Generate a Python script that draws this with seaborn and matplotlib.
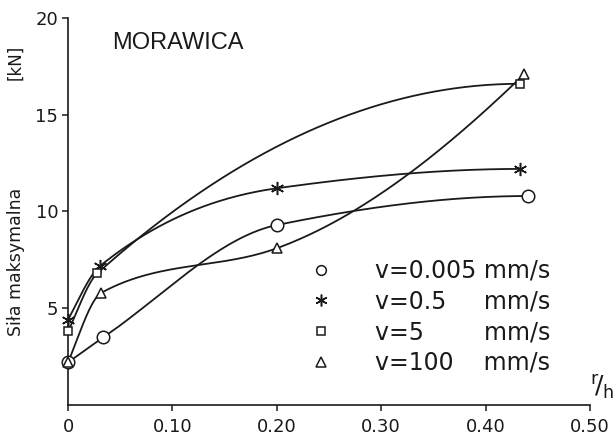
import numpy as np
import pandas as pd
import matplotlib
matplotlib.use("Agg")
import matplotlib.pyplot as plt
from matplotlib import font_manager
import seaborn as sns

# ---- data ----
series_labels = ["v=0.005", "v=0.5", "v=5", "v=100"]
label_pad = ["", "\u2007\u2007", "\u2007\u2008\u2007\u2007", "\u2007\u2008"]
unit = "mm/s"

x_v0005 = [0.0, 0.034, 0.200, 0.441]
y_v0005 = [2.2, 3.5, 9.3, 10.8]

x_v05 = [0.0, 0.031, 0.200, 0.433]
y_v05 = [4.4, 7.2, 11.2, 12.2]

x_v5 = [0.0, 0.028, 0.433]
y_v5 = [3.8, 6.8, 16.6]

x_v100 = [0.0, 0.032, 0.200, 0.437]
y_v100 = [2.2, 5.8, 8.1, 17.1]

x_ticks = [0.0, 0.10, 0.20, 0.30, 0.40, 0.50]
x_ticklabels = ["0", "0.10", "0.20", "0.30", "0.40", "0.50"]
y_ticks = [5, 10, 15, 20]
y_ticklabels = ["5", "10", "15", "20"]

title_text = "MORAWICA"
ylabel_text = "Siła maksymalna"
yunit_text = "[kN]"


def pchip(x, y, xs):
    x = np.asarray(x, float)
    y = np.asarray(y, float)
    h = np.diff(x)
    d = np.diff(y) / h
    n = len(x)
    m = np.zeros(n)
    for k in range(1, n - 1):
        if d[k - 1] * d[k] <= 0:
            m[k] = 0.0
        else:
            w1 = 2 * h[k] + h[k - 1]
            w2 = h[k] + 2 * h[k - 1]
            m[k] = (w1 + w2) / (w1 / d[k - 1] + w2 / d[k])

    def end(h0, h1, d0, d1):
        mm = ((2 * h0 + h1) * d0 - h0 * d1) / (h0 + h1)
        if np.sign(mm) != np.sign(d0):
            mm = 0.0
        elif np.sign(d0) != np.sign(d1) and abs(mm) > 3 * abs(d0):
            mm = 3 * d0
        return mm

    m[0] = end(h[0], h[1], d[0], d[1])
    m[-1] = end(h[-1], h[-2], d[-1], d[-2])
    xs = np.asarray(xs, float)
    idx = np.clip(np.searchsorted(x, xs) - 1, 0, n - 2)
    t = (xs - x[idx]) / h[idx]
    h00 = 2 * t**3 - 3 * t**2 + 1
    h10 = t**3 - 2 * t**2 + t
    h01 = -2 * t**3 + 3 * t**2
    h11 = t**3 - t**2
    return h00 * y[idx] + h10 * h[idx] * m[idx] + h01 * y[idx + 1] + h11 * h[idx] * m[idx + 1]


sns.set_style("ticks")
plt.rcParams["font.family"] = ["DejaVu Sans"]

fig = plt.figure(figsize=(6.16, 4.40), dpi=100)
ax = fig.add_axes([68 / 616, 1 - 405 / 440, (590 - 68) / 616, (405 - 18) / 440])

ink = "#1a1a1a"
marker_styles = [
    dict(marker="o", ms=9, mew=1.1),
    dict(marker=(6, 2, 0), ms=9.5, mew=1.1),
    dict(marker="s", ms=6, mew=1.1),
    dict(marker="^", ms=7, mew=1.1),
]
legend_ms = [7, 8.5, 6, 6.5]
all_x = [x_v0005, x_v05, x_v5, x_v100]
all_y = [y_v0005, y_v05, y_v5, y_v100]

handles = []
for xs_, ys_, ms_, lms in zip(all_x, all_y, marker_styles, legend_ms):
    xx = np.linspace(xs_[0], xs_[-1], 300)
    yy = pchip(xs_, ys_, xx)
    curve = pd.DataFrame({"x": xx, "y": yy})
    sns.lineplot(data=curve, x="x", y="y", ax=ax, color=ink, lw=1.3,
                 sort=False, estimator=None, zorder=2)
    pts = pd.DataFrame({"x": xs_, "y": ys_})
    sns.lineplot(data=pts, x="x", y="y", ax=ax, linestyle="none",
                 color=ink, mfc="white", mec=ink, sort=False, estimator=None,
                 zorder=3, clip_on=False, **ms_)
    h, = ax.plot([], [], linestyle="none", color=ink, mfc="white", mec=ink,
                 marker=ms_["marker"], ms=lms, mew=1.1)
    handles.append(h)

ax.set_xlim(0, 0.5)
ax.set_ylim(0, 20)
ax.set_xticks(x_ticks)
ax.set_xticklabels(x_ticklabels)
ax.set_yticks(y_ticks)
ax.set_yticklabels(y_ticklabels)
ax.set_xlabel("")
ax.set_ylabel("")
for s in ["top", "right"]:
    ax.spines[s].set_visible(False)
for s in ["left", "bottom"]:
    ax.spines[s].set_linewidth(1.2)
    ax.spines[s].set_color(ink)
ax.tick_params(axis="both", direction="out", length=4, width=1.1,
               colors=ink, labelsize=13, pad=5)
ax.tick_params(axis="y", pad=3)

labels = [f"{l}{p} {unit}" for l, p in zip(series_labels, label_pad)]
leg = fig.legend(handles, labels, loc="upper left",
                 bbox_to_anchor=(297 / 616, 1 - 259 / 440),
                 frameon=False, fontsize=17, handlelength=2.0,
                 handletextpad=1.29, labelspacing=0.28, borderpad=0,
                 borderaxespad=0)
for t in leg.get_texts():
    t.set_color(ink)

names = {f.name for f in font_manager.fontManager.ttflist}
if "Liberation Sans Narrow" in names:
    fig.text(112 / 616, 1 - 43 / 440, title_text, family="Liberation Sans Narrow",
             fontsize=20, va="center", ha="left", color=ink)
else:
    fig.text(112 / 616, 1 - 43 / 440, title_text, family="Liberation Sans",
             fontsize=17, va="center", ha="left", color=ink)

fig.text(16 / 616, 1 - 262 / 440, ylabel_text, rotation=90, fontsize=12.5,
         va="center", ha="center", color=ink)
fig.text(15 / 616, 1 - 62 / 440, yunit_text, rotation=90, fontsize=12,
         va="center", ha="center", color=ink)
fig.text(602 / 616, 1 - 387 / 440, r"$^{\mathrm{r}}\!/_{\mathrm{h}}$",
         fontsize=18, va="center", ha="center", color=ink)

fig.savefig("out.png", dpi=100, facecolor="white")
